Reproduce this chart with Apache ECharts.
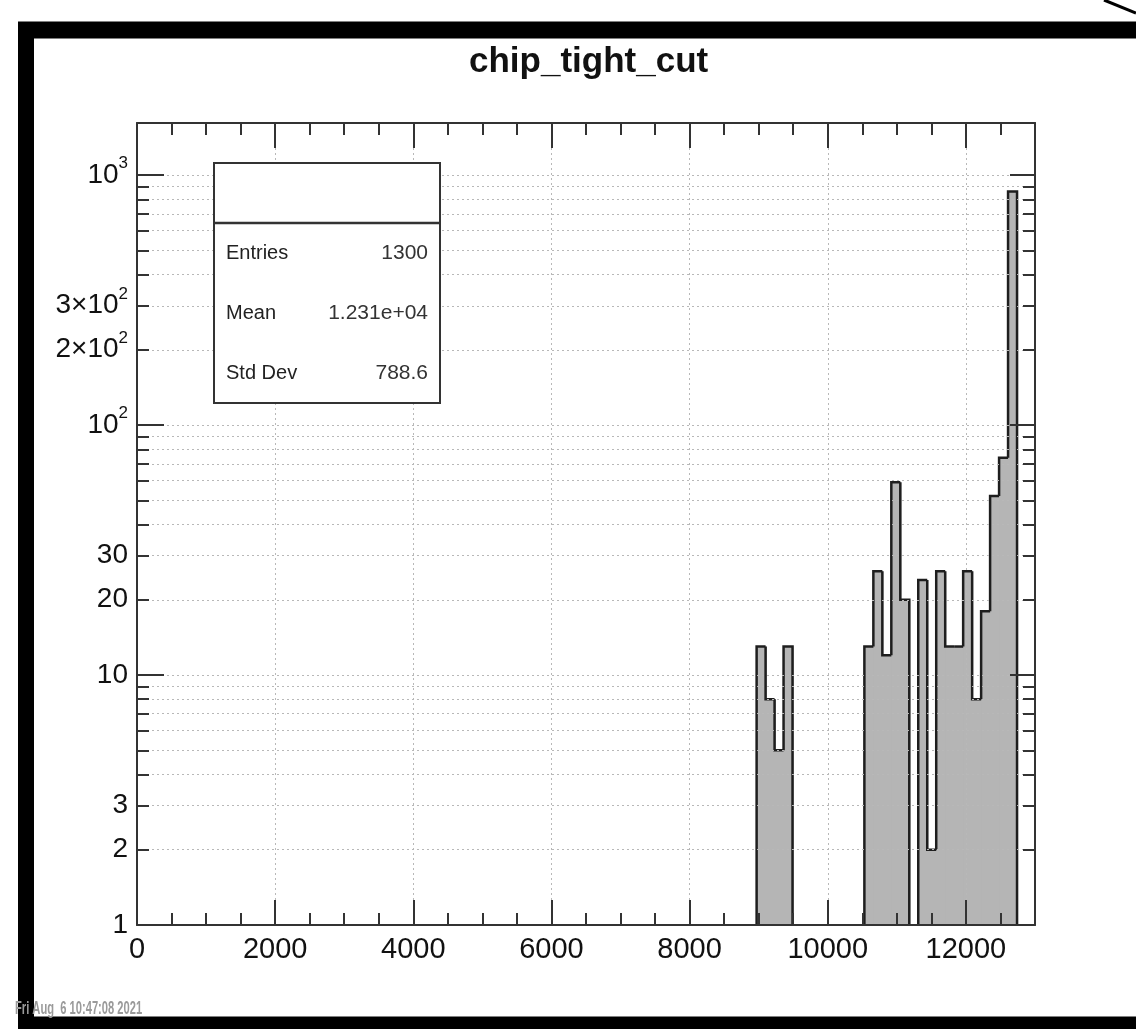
<!DOCTYPE html>
<html>
<head>
<meta charset="utf-8">
<script src="https://cdn.jsdelivr.net/npm/echarts@6/dist/echarts.min.js"></script>
<style>
  html, body { margin: 0; padding: 0; background: #fff; }
  #chart { width: 1136px; height: 1029px; }
</style>
</head>
<body>
<div id="chart"></div>
<script>
// histogram bins (left edge, width 130) and counts
var binWidth = 130;
var binLeft = [8970, 9100, 9230, 9360, 10530, 10660, 10790, 10920, 11050, 11310,
               11440, 11570, 11700, 11830, 11960, 12090, 12220, 12350, 12480, 12610];
var binCount = [13, 8, 5, 13, 13, 26, 12, 59, 20, 24,
                2, 26, 13, 13, 26, 8, 18, 52, 74, 860];

var xRange = [0, 13000];
var yRange = [1, 1615];

var xMajorTicks = [0, 2000, 4000, 6000, 8000, 10000, 12000];
var xMinorTicks = [500, 1000, 1500, 2500, 3000, 3500, 4500, 5000, 5500, 6500, 7000, 7500,
                   8500, 9000, 9500, 10500, 11000, 11500, 12500];
var yMajorTicks = [1, 10, 100, 1000];
var yMinorTicks = [2, 3, 4, 5, 6, 7, 8, 9, 20, 30, 40, 50, 60, 70, 80, 90,
                   200, 300, 400, 500, 600, 700, 800, 900];
var yLabelValues = [1, 2, 3, 10, 20, 30, 100, 200, 300, 1000];
var yLabelTexts = ['1', '2', '3', '10', '20', '30', '10{s|2}', '2\u00d710{s|2}', '3\u00d710{s|2}', '10{s|3}'];

var statNames = ['Entries', 'Mean', 'Std Dev'];
var statValues = ['1300', '1.231e+04', '788.6'];

var titleText = 'chip_tight_cut';
var dateText = 'Fri Aug  6 10:47:08 2021';

var FONT = 'Liberation Sans';
var chart = echarts.init(document.getElementById('chart'));

function yLabel(v) {
  for (var k = 0; k < yLabelValues.length; k++) {
    if (Math.abs(Math.log10(v) - Math.log10(yLabelValues[k])) < 1e-6) return yLabelTexts[k];
  }
  return '';
}

function renderFill(params, api) {
  var x0 = api.value(0), c = api.value(1);
  var tl = api.coord([x0, c]);
  var br = api.coord([x0 + binWidth, yRange[0]]);
  return {
    type: 'rect',
    // +1px so neighbouring bins don't leave a seam
    shape: { x: tl[0], y: tl[1], width: br[0] - tl[0] + 1, height: br[1] - tl[1] },
    style: { fill: '#b5b5b5' }
  };
}

function renderOutline(params, api) {
  var i = params.dataIndex;
  var x0 = binLeft[i], x1 = x0 + binWidth;
  var top = api.coord([x0, binCount[i]]);
  var right = api.coord([x1, binCount[i]]);
  var bottom = api.coord([x0, yRange[0]])[1];
  var fromY = bottom;
  if (i > 0 && binLeft[i - 1] + binWidth === x0) fromY = api.coord([x0, binCount[i - 1]])[1];
  var pts = [[top[0], fromY], top, right];
  if (!(i < binLeft.length - 1 && binLeft[i + 1] === x1)) pts.push([right[0], bottom]);
  return {
    type: 'polyline',
    shape: { points: pts },
    style: { stroke: '#1e1e1e', lineWidth: 2.5, fill: null }
  };
}

var gridLine = { show: true, lineStyle: { color: '#b8b8b8', width: 1, type: [2, 3] } };

function lineOf(show) {
  return { show: show, onZero: false, lineStyle: { color: '#333', width: 2 } };
}

function xAxisDef(pos, ticks, len, labels, grid) {
  return {
    type: 'value', position: pos, min: xRange[0], max: xRange[1], z: 5,
    axisLine: lineOf(labels || (pos === 'top' && grid !== null)),
    axisTick: { show: true, inside: true, length: len, customValues: ticks,
                lineStyle: { color: '#333', width: 2 } },
    axisLabel: labels ? {
      show: true, customValues: ticks, margin: 10, color: '#111',
      fontSize: 29, fontFamily: FONT,
      formatter: function (v) { return String(v); }
    } : { show: false },
    splitLine: grid ? gridLine : { show: false }
  };
}

function yAxisDef(pos, ticks, len, labels, isMajor) {
  return {
    type: 'log', logBase: 10, position: pos, min: yRange[0], max: yRange[1], z: 5,
    axisLine: lineOf(isMajor),
    axisTick: { show: true, inside: true, length: len, customValues: ticks,
                lineStyle: { color: '#333', width: 2 } },
    axisLabel: labels ? {
      show: true, customValues: yLabelValues, margin: 9, color: '#111',
      fontSize: 28, fontFamily: FONT, lineHeight: 40, formatter: yLabel,
      rich: { s: { fontSize: 17, fontFamily: FONT, color: '#111', lineHeight: 17, verticalAlign: 'top' } }
    } : { show: false },
    splitLine: pos === 'left' ? gridLine : { show: false }
  };
}

var statsGraphics = [
  { type: 'rect', shape: { x: 214, y: 163, width: 226, height: 240 },
    style: { fill: '#fff', stroke: '#333', lineWidth: 2 }, z: 20 },
  { type: 'line', shape: { x1: 214, y1: 223, x2: 440, y2: 223 },
    style: { stroke: '#333', lineWidth: 2.5 }, z: 21 }
];
statNames.forEach(function (name, k) {
  statsGraphics.push({ type: 'text', x: 226, y: 253 + k * 60, z: 21,
    style: { text: name, fill: '#222', fontSize: 20, fontFamily: FONT, verticalAlign: 'middle' } });
  statsGraphics.push({ type: 'text', x: 428, y: 253 + k * 60, z: 21,
    style: { text: statValues[k], fill: '#333', fontSize: 21, fontFamily: FONT,
             align: 'right', verticalAlign: 'middle' } });
});

var borderGraphics = [
  { type: 'line', shape: { x1: 18, y1: 30, x2: 1136, y2: 30 }, style: { stroke: '#000', lineWidth: 17 }, z: 40 },
  { type: 'line', shape: { x1: 26, y1: 22, x2: 26, y2: 1029 }, style: { stroke: '#000', lineWidth: 16 }, z: 40 },
  { type: 'line', shape: { x1: 18, y1: 1023, x2: 1136, y2: 1023 }, style: { stroke: '#000', lineWidth: 13 }, z: 40 },
  { type: 'line', shape: { x1: 1104, y1: 0, x2: 1136, y2: 13 }, style: { stroke: '#000', lineWidth: 3 }, z: 40 },
  { type: 'text', x: 15, y: 1009, scaleX: 0.62, z: 50,
    style: { text: dateText, fill: '#9a9a9a', fontSize: 18, fontWeight: 'bold', fontFamily: FONT, verticalAlign: 'middle' } }
];

var histData = binLeft.map(function (x, i) { return [x, binCount[i]]; });

var option = {
  backgroundColor: '#fff',
  animation: false,
  title: {
    text: titleText, left: 464, top: 40,
    textStyle: { fontSize: 35, fontWeight: 'bold', fontFamily: FONT, color: '#111' }
  },
  grid: { left: 137, right: 101, top: 123, bottom: 104 },
  xAxis: [
    xAxisDef('bottom', xMajorTicks, 25, true, true),
    xAxisDef('bottom', xMinorTicks, 12, false, false),
    xAxisDef('top', xMajorTicks, 25, false, false),
    xAxisDef('top', xMinorTicks, 12, false, null)
  ],
  yAxis: [
    yAxisDef('left', yMajorTicks, 27, true, true),
    yAxisDef('left', yMinorTicks, 12, false, false),
    yAxisDef('right', yMajorTicks, 25, false, true),
    yAxisDef('right', yMinorTicks, 12, false, false)
  ],
  series: [
    { type: 'custom', name: 'fill', xAxisIndex: 0, yAxisIndex: 0, data: histData,
      encode: { x: 0, y: 1 }, renderItem: renderFill, z: 2 },
    { type: 'custom', name: 'outline', xAxisIndex: 0, yAxisIndex: 0, data: histData,
      encode: { x: 0, y: 1 }, renderItem: renderOutline, z: 3 }
  ],
  graphic: statsGraphics.concat(borderGraphics)
};

option && chart.setOption(option);
window.addEventListener('resize', function () { chart.resize(); });
</script>
</body>
</html>
